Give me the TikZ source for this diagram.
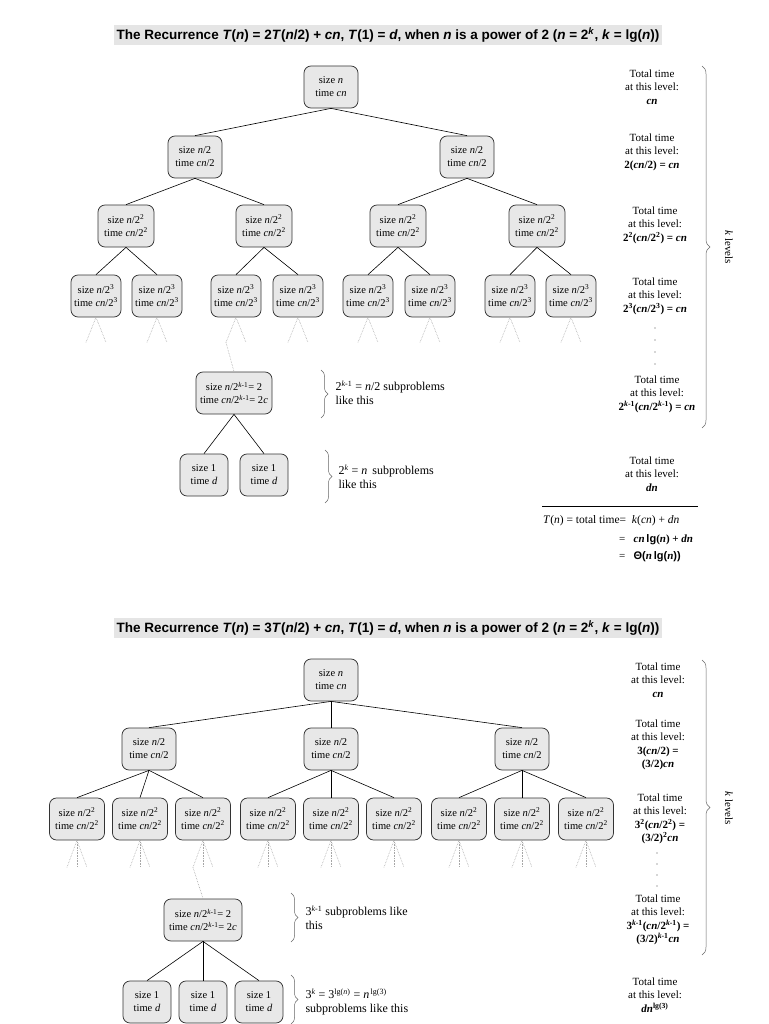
\documentclass[tikz,border=0pt]{standalone}
\usepackage{fontspec}
\setmainfont{Liberation Serif}
\setsansfont{Liberation Sans}
\usetikzlibrary{decorations.pathreplacing}

\newcommand\sq[1]{\textsuperscript{#1}}
\newcommand\iv[1]{\textit{#1}}

\begin{document}
\begin{tikzpicture}[x=1pt,y=-1pt,
  box/.style={draw=black!80,line width=0.75pt,fill=black!9,rounded corners=7pt,minimum width=#1,minimum height=42pt,align=center,inner sep=1pt,font=\fontsize{10.5}{13}\selectfont},
  box/.default=54pt,
  tline/.style={line width=0.6pt},
  ghost/.style={densely dotted,black!35,line width=0.6pt},
  tot/.style={align=center,font=\fontsize{11}{13.5}\selectfont},
  side/.style={align=left,anchor=west,font=\fontsize{12}{14}\selectfont},
  brc/.style={decorate,decoration={brace,amplitude=#1},black!60,line width=0.5pt},
  brc/.default=7pt,
  headline/.style={fill=black!10,inner xsep=3pt,inner ysep=3pt,font=\sffamily\bfseries\fontsize{13.5}{15}\selectfont}]
\useasboundingbox (0,0) rectangle (768,1024);

% ---------- recurrence with 2 subproblems ----------
\node[headline] (ttlA) at (388,35) {The Recurrence \iv{T}(\iv{n}) = 2\iv{T}(\iv{n}/2) + \iv{cn}, \iv{T}(1) = \iv{d}, when \iv{n} is a power of 2 (\iv{n} = 2\sq{\iv{k}}, \iv{k} = lg(\iv{n}))};

\node[box] (r) at (331,87) {size \iv{n}\\time \iv{cn}};
\node[box] (a) at (195,157) {size \iv{n}/2\\time \iv{cn}/2};
\node[box] (b) at (467,157) {size \iv{n}/2\\time \iv{cn}/2};
\foreach \x/\nm in {126/aa,264/ab,398/ba,537/bb} {
   \node[box=56pt] (\nm) at (\x,226) {size \iv{n}/2\sq{2}\\time \iv{cn}/2\sq{2}};
}
\foreach \x/\nm in {96/aaa,157/aab,236/aba,298/abb,368/baa,430/bab,510/bba,571/bbb} {
   \node[box=50pt] (\nm) at (\x,296) {size \iv{n}/2\sq{3}\\time \iv{cn}/2\sq{3}};
   \draw[ghost] ([xshift=-10pt,yshift=-25pt]\nm.south) -- (\nm.south) -- ([xshift=10pt,yshift=-25pt]\nm.south);
}
\foreach \p/\c in {r/a,r/b,a/aa,a/ab,b/ba,b/bb,aa/aaa,aa/aab,ab/aba,ab/abb,ba/baa,ba/bab,bb/bba,bb/bbb} {
   \draw[tline] (\p.south) -- (\c.north);
}

\node[box=76pt] (km) at (234,393) {size \iv{n}/2\sq{\iv{k}-1}= 2\\time \iv{cn}/2\sq{\iv{k}-1}= 2\iv{c}};
\draw[ghost] ([xshift=-10pt,yshift=-25pt]aba.south) -- (km.north);
\node[box=48pt] (l1) at (204,475) {size 1\\time \iv{d}};
\node[box=48pt] (l2) at (264,475) {size 1\\time \iv{d}};
\draw[tline] (km.south) -- (l1.north);
\draw[tline] (km.south) -- (l2.north);

\draw[brc] (321,370) -- (321,418);
\node[side] (subA) at (332,393) {2\sq{\iv{k}-1} = \iv{n}/2 subproblems\\like this};
\draw[brc] (325,450) -- (325,503);
\node[side] (subB) at (335,477) {2\sq{\iv{k}} = \iv{n}\, subproblems\\like this};

\node[tot] (t1) at (652,87) {Total time\\at this level:\\\textbf{\iv{cn}}};
\node[tot] (t2) at (652,152) {Total time\\at this level:\\\textbf{2(\iv{cn}/2) = \iv{cn}}};
\node[tot] (t3) at (655,225) {Total time\\at this level:\\\textbf{2\sq{2}(\iv{cn}/2\sq{2}) = \iv{cn}}};
\node[tot] (t4) at (655,296) {Total time\\at this level:\\\textbf{2\sq{3}(\iv{cn}/2\sq{3}) = \iv{cn}}};
\foreach \y in {328,340,352,364} {
   \fill[black!70] (655,\y) circle (0.6pt);
}
\node[tot] (t5) at (657,394) {Total time\\at this level:\\\textbf{2\sq{\iv{k}-1}(\iv{cn}/2\sq{\iv{k}-1}) = \iv{cn}}};
\node[tot] (t6) at (652,474) {Total time\\at this level:\\\textbf{\iv{dn}}};

\draw[brc=8pt] (702,66) -- (702,428);
\node[rotate=-90,font=\fontsize{11}{12}\selectfont] (levA) at (729,247) {\iv{k} levels};

\draw[line width=0.6pt] (542,506) -- (698,506);
\node[anchor=west,inner sep=0pt,font=\fontsize{11.5}{14}\selectfont] (sumA) at (543,521) {\iv{T}(\iv{n}) = total time= \ \iv{k}(\iv{cn}) + \iv{dn}};
\node[anchor=west,inner sep=0pt,font=\fontsize{11}{14}\selectfont] (sumB) at (619,540) {= \ \ \textbf{\iv{cn}\,\textsf{lg}(\iv{n}) + \iv{dn}}};
\node[anchor=west,inner sep=0pt,font=\fontsize{11}{14}\selectfont] (sumC) at (619,557) {= \ \ \textbf{\textsf{Θ(}\iv{n}\,\textsf{lg(}\iv{n}\textsf{))}}};

% ---------- recurrence with 3 subproblems ----------
\node[headline] (ttlB) at (388,628) {The Recurrence \iv{T}(\iv{n}) = 3\iv{T}(\iv{n}/2) + \iv{cn}, \iv{T}(1) = \iv{d}, when \iv{n} is a power of 2 (\iv{n} = 2\sq{\iv{k}}, \iv{k} = lg(\iv{n}))};

\node[box] (R) at (331,680) {size \iv{n}\\time \iv{cn}};
\foreach \x/\nm in {149/A,331/B,522/C} {
   \node[box] (\nm) at (\x,749) {size \iv{n}/2\\time \iv{cn}/2};
   \draw[tline] (R.south) -- (\nm.north);
}
\foreach \x/\nm/\p in {77/AA/A,140/AB/A,203/AC/A,268/BA/B,331/BB/B,394/BC/B,459/CA/C,522/CB/C,586/CC/C} {
   \node[box=55pt] (\nm) at (\x,819) {size \iv{n}/2\sq{2}\\time \iv{cn}/2\sq{2}};
   \draw[tline] (\p.south) -- (\nm.north);
   \draw[ghost] ([xshift=-10pt,yshift=-27pt]\nm.south) -- (\nm.south) -- ([xshift=10pt,yshift=-27pt]\nm.south);
   \draw[ghost] (\nm.south) -- ([yshift=-27pt]\nm.south);
}

\node[box=78pt] (KM) at (203,920) {size \iv{n}/2\sq{\iv{k}-1}= 2\\time \iv{cn}/2\sq{\iv{k}-1}= 2\iv{c}};
\draw[ghost] ([xshift=-10pt,yshift=-27pt]AC.south) -- (KM.north);
\foreach \x/\nm in {147/L1,203/L2,259/L3} {
   \node[box=48pt] (\nm) at (\x,1002) {size 1\\time \iv{d}};
   \draw[tline] (KM.south) -- (\nm.north);
}

\draw[brc] (291,893) -- (291,942);
\node[side] (subC) at (302,918) {3\sq{\iv{k}-1} subproblems like\\this};
\draw[brc] (291,975) -- (291,1024);
\node[side] (subD) at (302,1002) {3\sq{\iv{k}} = 3\sq{lg(\iv{n})} = \iv{n}\sq{\,lg(3)}\\subproblems like this};

\node[tot] (T1) at (658,680) {Total time\\at this level:\\\textbf{\iv{cn}}};
\node[tot] (T2) at (658,745) {Total time\\at this level:\\\textbf{3(\iv{cn}/2) =}\\\textbf{(3/2)\iv{cn}}};
\node[tot] (T3) at (660,819) {Total time\\at this level:\\\textbf{3\sq{2}(\iv{cn}/2\sq{2}) =}\\\textbf{(3/2)\sq{2}\iv{cn}}};
\foreach \y in {853,864,875,886} {
   \fill[black!70] (657,\y) circle (0.6pt);
}
\node[tot] (T4) at (658,920) {Total time\\at this level:\\\textbf{3\sq{\iv{k}-1}(\iv{cn}/2\sq{\iv{k}-1}) =}\\\textbf{(3/2)\sq{\iv{k}-1}\iv{cn}}};
\node[tot] (T5) at (655,995) {Total time\\at this level:\\\textbf{\iv{dn}\sq{lg(3)}}};

\draw[brc=8pt] (702,660) -- (702,955);
\node[rotate=-90,font=\fontsize{11}{12}\selectfont] (levB) at (729,808) {\iv{k} levels};
\end{tikzpicture}
\end{document}
